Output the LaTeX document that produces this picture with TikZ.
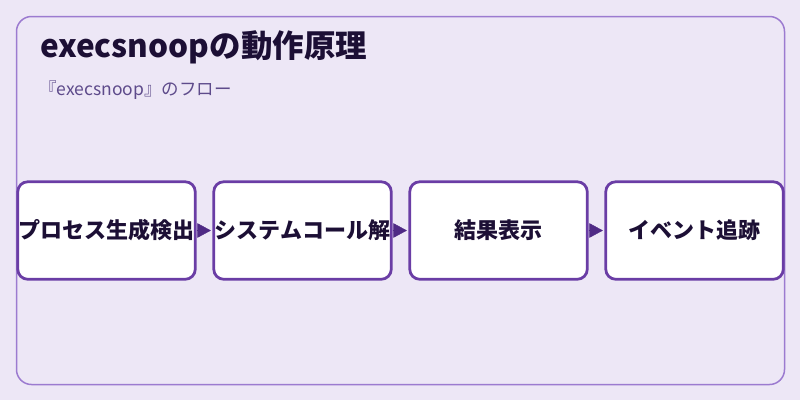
\documentclass[tikz,border=0pt]{standalone}
\usepackage{fontspec}
\setmainfont{Noto Sans CJK JP}
\usetikzlibrary{arrows.meta,positioning}
\definecolor{bgcol}{HTML}{EDE7F6}
\definecolor{framecol}{HTML}{9C7BD0}
\definecolor{boxcol}{HTML}{6A3DA5}
\definecolor{arrowcol}{HTML}{4F2A85}
\definecolor{titlecol}{HTML}{1C0F35}
\definecolor{subcol}{HTML}{5E4B8B}

\begin{document}
\begin{tikzpicture}[x=1pt, y=-1pt, node distance=15.75pt,
  stage/.style={rectangle, draw=boxcol, fill=white, line width=2.75pt, rounded corners=10pt,
    minimum width=177.5pt, minimum height=97.5pt, inner sep=0pt,
    font=\fontsize{22}{25}\selectfont\bfseries, text=titlecol},
  flow/.style={draw=arrowcol, line width=0.4pt, shorten <=0pt, shorten >=1.5pt,
    -{Triangle[length=13.5pt,width=14.5pt]}}]
  \useasboundingbox (0,0) rectangle (800,400);
  \fill [bgcol] (0,0) rectangle (800,400);
  \draw [framecol, line width=1.5pt, rounded corners=15pt] (16.5,16.5) rectangle (784.5,384.5);

  \node (title) [anchor=west, inner sep=0pt, text=titlecol, font=\fontsize{31.5}{36}\selectfont\bfseries] at (40,47) {execsnoopの動作原理};
  \node (subtitle) [anchor=west, inner sep=0pt, text=subcol, font=\fontsize{17.5}{21}\selectfont] at (39,90) {『execsnoop』のフロー};

  \node (detect) [stage] at (106.5,230.5) {プロセス生成検出};
  \node (parse) [stage, right=of detect] {システムコール解};
  \node (result) [stage, right=of parse] {結果表示};
  \node (trace) [stage, right=of result] {イベント追跡};

  \draw [flow] (detect) -- (parse);
  \draw [flow] (parse) -- (result);
  \draw [flow] (result) -- (trace);
\end{tikzpicture}
\end{document}
